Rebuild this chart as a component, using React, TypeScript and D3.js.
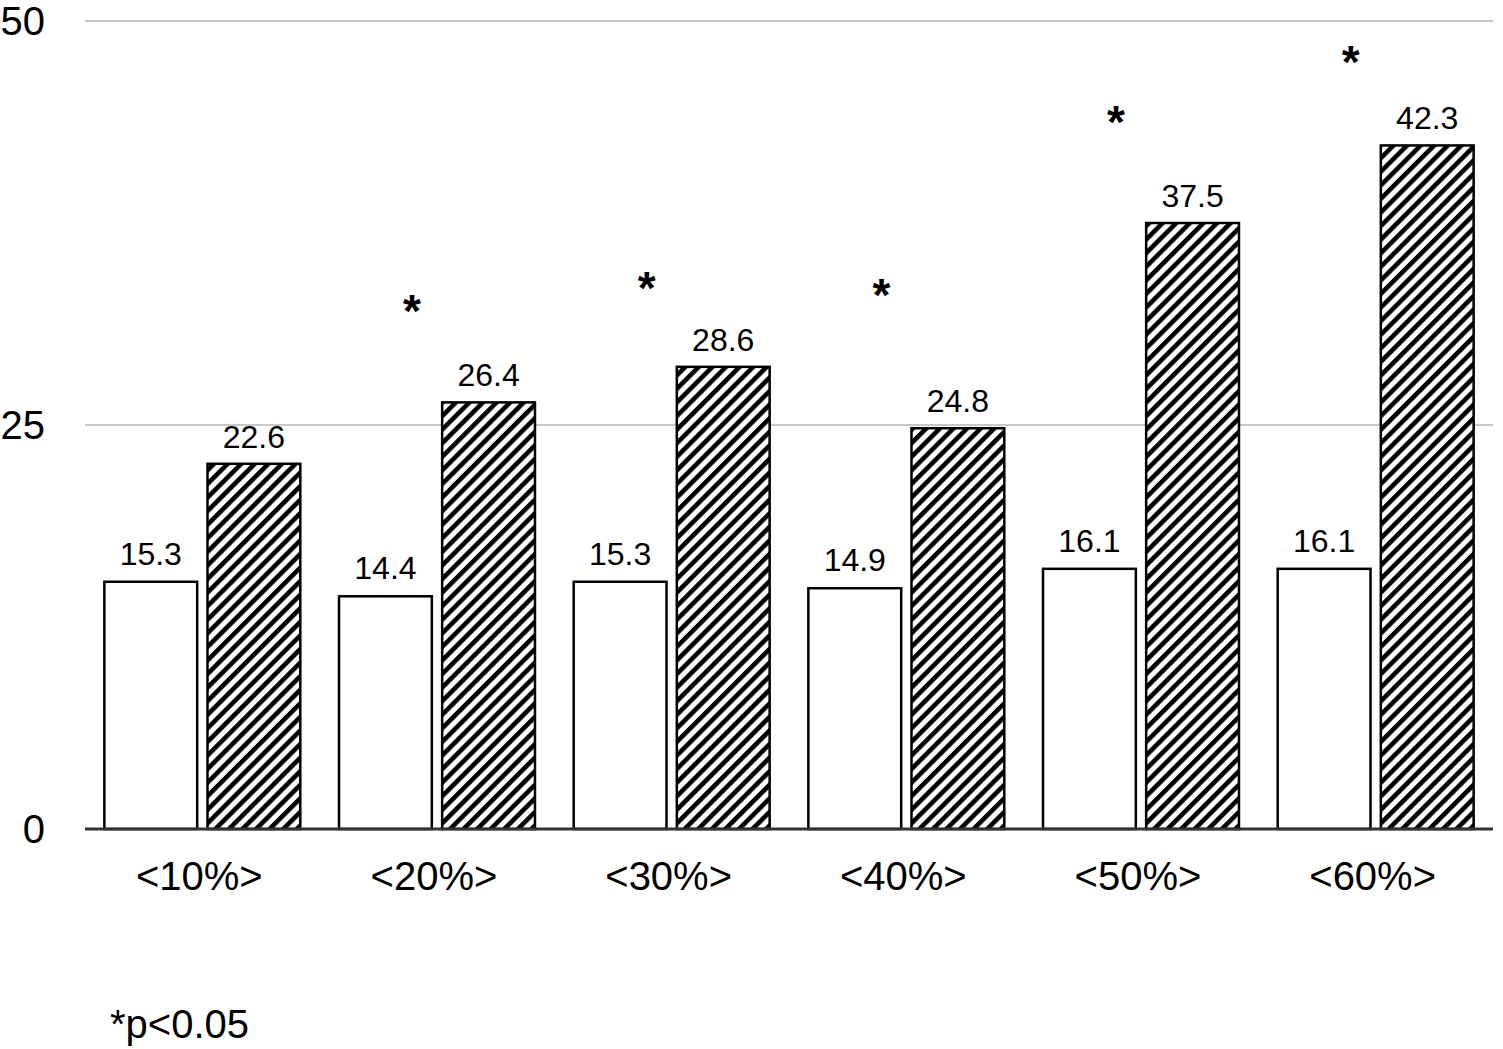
import React, { useEffect, useRef } from "react";
import * as d3 from "d3";

const categories = ["<10%>", "<20%>", "<30%>", "<40%>", "<50%>", "<60%>"];
const whiteValues = [15.3, 14.4, 15.3, 14.9, 16.1, 16.1];
const hatchedValues = [22.6, 26.4, 28.6, 24.8, 37.5, 42.3];
const significant = [false, true, true, true, true, true];
const starLevels = [0, 32.7, 34.1, 33.7, 44.4, 48.1];
const yTicks = [0, 25, 50];
const footnote = "*p<0.05";

const W = 1503;
const H = 1049;

export default function App() {
  const ref = useRef<SVGSVGElement | null>(null);
  useEffect(() => {
    const svg = d3.select(ref.current);
    svg.selectAll("*").remove();
    const font = "'Liberation Sans', Arial, Helvetica, sans-serif";
    const left = 85, right = 1493, top = 21, bottom = 829;
    const y = d3.scaleLinear().domain([0, 50]).range([bottom, top]);
    const x0 = d3.scaleBand().domain(categories).range([left, right]).paddingInner(0.165).paddingOuter(0.0825);
    const x1 = d3.scaleBand().domain(["w", "h"]).range([0, x0.bandwidth()]).paddingInner(0.1);

    const P = 9.6;
    const defs = svg.append("defs");
    const pat = defs.append("pattern").attr("id", "hatch").attr("patternUnits", "userSpaceOnUse")
      .attr("width", P).attr("height", P).attr("patternTransform", "rotate(45)");
    pat.append("rect").attr("width", P).attr("height", P).attr("fill", "#fff");
    pat.append("rect").attr("x", 0).attr("y", 0).attr("width", 4.6).attr("height", P).attr("fill", "#000");

    // gridlines
    svg.append("g").selectAll("line").data(yTicks.filter(t => t > 0)).join("line")
      .attr("x1", left).attr("x2", right).attr("y1", d => y(d)).attr("y2", d => y(d))
      .attr("stroke", "#c8c8c8").attr("stroke-width", 2);

    // tick labels
    svg.append("g").selectAll("text").data(yTicks).join("text")
      .attr("x", 45).attr("y", d => y(d)).attr("dy", "0.36em").attr("text-anchor", "end")
      .attr("font-family", font).attr("font-size", 40).attr("fill", "#000").text(d => String(d));

    const groups = svg.append("g").selectAll("g").data(categories).join("g")
      .attr("transform", d => `translate(${x0(d)},0)`);

    groups.append("rect")
      .attr("x", x1("w")!).attr("width", x1.bandwidth())
      .attr("y", (_, i) => y(whiteValues[i])).attr("height", (_, i) => bottom - y(whiteValues[i]))
      .attr("fill", "#fff").attr("stroke", "#000").attr("stroke-width", 2.5);
    groups.append("rect")
      .attr("x", x1("h")!).attr("width", x1.bandwidth())
      .attr("y", (_, i) => y(hatchedValues[i])).attr("height", (_, i) => bottom - y(hatchedValues[i]))
      .attr("fill", "url(#hatch)").attr("stroke", "#000").attr("stroke-width", 2.5);

    groups.append("text")
      .attr("x", x1("w")! + x1.bandwidth() / 2).attr("y", (_, i) => y(whiteValues[i]) - 17)
      .attr("text-anchor", "middle").attr("font-family", font).attr("font-size", 32)
      .text((_, i) => whiteValues[i].toFixed(1));
    groups.append("text")
      .attr("x", x1("h")! + x1.bandwidth() / 2).attr("y", (_, i) => y(hatchedValues[i]) - 16)
      .attr("text-anchor", "middle").attr("font-family", font).attr("font-size", 32)
      .text((_, i) => hatchedValues[i].toFixed(1));

    const starSize = 46;
    groups.filter((_, i) => significant[i]).append("text")
      .attr("x", x0.bandwidth() / 2 - 25)
      .attr("y", (d) => y(starLevels[categories.indexOf(d)]) + starSize * 0.57)
      .attr("text-anchor", "middle").attr("font-family", font).attr("font-weight", "bold")
      .attr("font-size", starSize).text("*");

    // axis line
    svg.append("line").attr("x1", left).attr("x2", right).attr("y1", bottom).attr("y2", bottom)
      .attr("stroke", "#333").attr("stroke-width", 3);

    // category labels
    svg.append("g").selectAll("text").data(categories).join("text")
      .attr("x", d => x0(d)! + x0.bandwidth() / 2 - 3).attr("y", 890)
      .attr("text-anchor", "middle").attr("font-family", font).attr("font-size", 40).text(d => d);

    svg.append("text").attr("x", 110).attr("y", 1038).attr("font-family", font).attr("font-size", 40)
      .text(footnote);
  }, []);
  return (
    <svg ref={ref} width={W} height={H} style={{ position: "absolute", left: 0, top: 0, background: "#fff" }} />
  );
}
